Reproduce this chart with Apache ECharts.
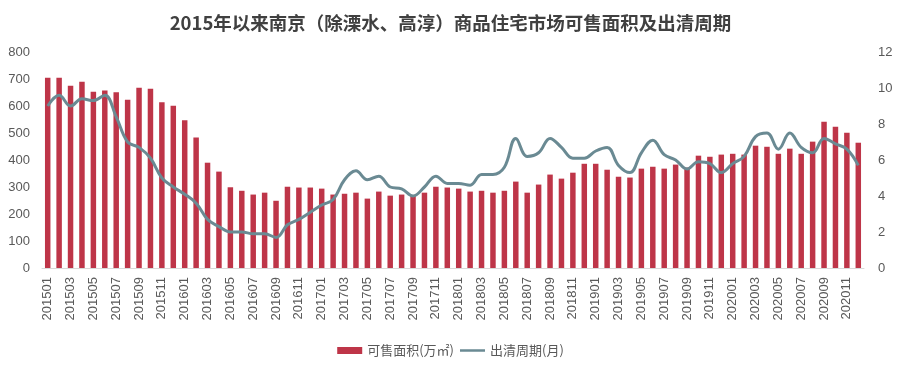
<!DOCTYPE html>
<html>
<head>
<meta charset="utf-8">
<title>南京可售面积及出清周期</title>
<style>
html, body { margin: 0; padding: 0; background: #fff; }
#main { width: 901px; height: 377px; }
</style>
</head>
<body>
<div id="main"></div>
<script src="https://cdn.jsdelivr.net/npm/echarts@6/dist/echarts.min.js"></script>
<script>
// 月份 201501 - 202012
var months = [];
for (var y = 2015; y <= 2020; y++) {
    for (var m = 1; m <= 12; m++) {
        months.push(String(y) + (m < 10 ? '0' + m : m));
    }
}

// 可售面积(万㎡)
var area = [
    705, 705, 675, 690, 653, 657, 651, 623, 668, 664, 614, 601,
    547, 483, 390, 357, 299, 286, 272, 279, 249, 301, 298, 298,
    294, 272, 275, 279, 257, 283, 268, 272, 268, 279, 301, 298,
    294, 283, 286, 279, 286, 320, 279, 309, 346, 331, 353, 386,
    386, 364, 338, 335, 368, 375, 368, 383, 372, 416, 412, 420,
    423, 420, 453, 449, 423, 442, 423, 468, 542, 523, 501, 464
];

// 出清周期(月)
var cycle = [
    9.0, 9.6, 9.0, 9.4, 9.3, 9.6, 8.4, 7.0, 6.7, 6.1, 5.0, 4.5,
    4.1, 3.6, 2.7, 2.3, 2.0, 2.0, 1.9, 1.9, 1.7, 2.4, 2.7, 3.1,
    3.5, 3.8, 4.9, 5.4, 4.9, 5.1, 4.5, 4.4, 4.0, 4.5, 5.1, 4.7,
    4.7, 4.6, 5.2, 5.2, 5.6, 7.2, 6.2, 6.4, 7.2, 6.7, 6.1, 6.1,
    6.5, 6.7, 5.7, 5.3, 6.4, 7.1, 6.3, 6.0, 5.5, 5.9, 5.8, 5.3,
    5.8, 6.2, 7.3, 7.5, 6.6, 7.5, 6.7, 6.4, 7.2, 6.9, 6.6, 5.7
];

var myChart = echarts.init(document.getElementById('main'));

var option = {
    animation: false,
    title: {
        text: '2015年以来南京（除溧水、高淳）商品住宅市场可售面积及出清周期',
        left: 'center',
        top: 9,
        textStyle: {
            fontFamily: 'Noto Sans CJK SC',
            fontSize: 18.5,
            fontWeight: 'bold',
            color: '#404040'
        }
    },
    legend: {
        bottom: 15,
        left: 'center',
        itemGap: 6,
        itemWidth: 25,
        itemHeight: 7,
        textStyle: { color: '#595959', fontSize: 13, fontFamily: 'Noto Sans CJK SC' },
        data: [
            { name: '可售面积(万㎡)', icon: 'rect' },
            { name: '出清周期(月)', icon: 'path://M0,0 L30,0 L30,3 L0,3 Z' }
        ]
    },
    grid: {
        left: 42,
        right: 37,
        top: 52,
        bottom: 109
    },
    xAxis: [{
        type: 'category',
        data: months,
        axisLine: { lineStyle: { color: '#d9d9d9', width: 1 } },
        axisTick: { show: false },
        axisLabel: {
            interval: 1,
            rotate: 90,
            color: '#595959',
            fontSize: 13,
            fontFamily: 'Liberation Sans',
            margin: 9
        }
    }],
    yAxis: [{
        type: 'value',
        min: 0,
        max: 800,
        interval: 100,
        splitLine: { show: false },
        axisLine: { show: false },
        axisLabel: { color: '#595959', fontSize: 13, fontFamily: 'Liberation Sans', margin: 12 }
    }, {
        type: 'value',
        min: 0,
        max: 12,
        interval: 2,
        splitLine: { show: false },
        axisLine: { show: false },
        axisLabel: { color: '#595959', fontSize: 13, fontFamily: 'Liberation Sans', margin: 14 }
    }],
    series: [{
        name: '可售面积(万㎡)',
        type: 'bar',
        data: area,
        barWidth: '48%',
        itemStyle: { color: '#be3548' }
    }, {
        name: '出清周期(月)',
        type: 'line',
        yAxisIndex: 1,
        data: cycle,
        smooth: 0.4,
        symbol: 'none',
        lineStyle: { color: '#6a8a93', width: 3 },
        itemStyle: { color: '#6a8a93' }
    }]
};

myChart.setOption(option);
</script>
</body>
</html>
